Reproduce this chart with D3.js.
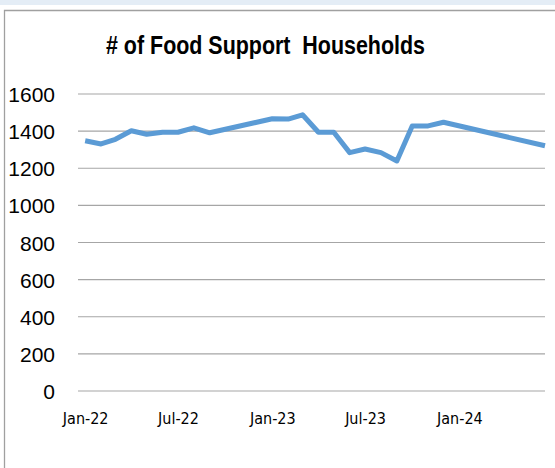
<!DOCTYPE html>
<html>
<head>
<meta charset="utf-8">
<script src="https://cdn.jsdelivr.net/npm/d3@7/dist/d3.min.js"></script>
<style>
    html, body { margin: 0; padding: 0; background: #fff; }
    #chart { width: 555px; height: 468px; }
    .grid line { stroke: #a6a6a6; stroke-width: 1.2; }
</style>
</head>
<body>
<div id="chart"></div>
<script>
// chart data
const titleText = "# of Food Support  Households";
const dates = [
    "2022-01-01", "2022-02-01", "2022-03-01", "2022-04-01", "2022-05-01",
    "2022-06-01", "2022-07-01", "2022-08-01", "2022-09-01",
    "2023-01-01", "2023-02-01", "2023-03-01", "2023-04-01", "2023-05-01",
    "2023-06-01", "2023-07-01", "2023-08-01", "2023-09-01", "2023-10-01",
    "2023-11-01", "2023-12-01", "2024-06-16"
];
const households = [
    1348, 1331, 1356, 1402, 1383,
    1394, 1394, 1418, 1391,
    1467, 1465, 1488, 1394, 1394,
    1284, 1304, 1284, 1239, 1428,
    1428, 1448, 1321
];
const yTicks = [0, 200, 400, 600, 800, 1000, 1200, 1400, 1600];
const xTickDates = ["2022-01-01", "2022-07-01", "2023-01-01", "2023-07-01", "2024-01-01"];
const xTickLabels = ["Jan-22", "Jul-22", "Jan-23", "Jul-23", "Jan-24"];

class FoodSupportChart {
    constructor() {
        this.width = 555;
        this.height = 468;
        this.plot = {left: 78, right: 545, top: 94, bottom: 391};

        this.svg = d3.select("#chart").append("svg")
            .attr("width", this.width)
            .attr("height", this.height);

        // light band at the very top and the chart frame
        this.svg.append("rect")
            .attr("x", 0).attr("y", 0)
            .attr("width", this.width).attr("height", 5)
            .attr("fill", "#e4edf6");
        this.svg.append("path")
            .attr("d", "M4.5," + this.height + "V10.5H" + this.width)
            .attr("fill", "none")
            .attr("stroke", "#a0a0a0")
            .attr("stroke-width", 1.3);

        // title, squeezed to the narrow width of the original
        this.svg.append("text")
            .attr("x", 106)
            .attr("y", 54)
            .attr("textLength", 319)
            .attr("lengthAdjust", "spacingAndGlyphs")
            .attr("xml:space", "preserve")
            .style("font-family", "'Liberation Sans', Arial, sans-serif")
            .style("font-weight", "bold")
            .style("font-size", "25px")
            .text(titleText);
    }

    update() {
        const parse = d3.timeParse("%Y-%m-%d");
        const data = dates.map((d, i) => ({date: parse(d), value: households[i]}));

        let xScale = d3.scaleTime()
            .domain([parse("2021-12-18"), parse("2024-06-16")])
            .range([this.plot.left, this.plot.right]);
        let yScale = d3.scaleLinear()
            .domain([0, 1600])
            .range([this.plot.bottom, this.plot.top]);

        // horizontal gridlines
        let grid = this.svg.append("g").attr("class", "grid");
        grid.selectAll("line")
            .data(yTicks)
            .enter().append("line")
            .attr("x1", this.plot.left)
            .attr("x2", this.plot.right)
            .attr("y1", d => yScale(d))
            .attr("y2", d => yScale(d));

        // y axis labels
        let yAxis = d3.axisLeft(yScale)
            .tickValues(yTicks)
            .tickFormat(d3.format("d"))
            .tickSize(0).tickPadding(0);
        let yAx = this.svg.append("g")
            .attr("transform", "translate(55,0)")
            .call(yAxis);
        yAx.select(".domain").remove();
        yAx.selectAll("text")
            .attr("fill", "#000")
            .style("font-family", "'Liberation Sans', Arial, sans-serif")
            .style("font-size", "21px")
            .attr("dy", "0.36em");

        // x axis labels
        let xAxis = d3.axisBottom(xScale)
            .tickValues(xTickDates.map(parse))
            .tickFormat((d, i) => xTickLabels[i])
            .tickSize(0).tickPadding(0);
        let xAx = this.svg.append("g")
            .attr("transform", "translate(0,410)")
            .call(xAxis);
        xAx.select(".domain").remove();
        xAx.selectAll("text")
            .attr("fill", "#000")
            .style("font-family", "'DejaVu Sans Condensed', 'Liberation Sans', sans-serif")
            .style("font-size", "16px")
            .attr("dy", "0.85em");

        let line = d3.line()
            .x(d => xScale(d.date))
            .y(d => yScale(d.value));

        this.svg.append("path")
            .datum(data)
            .attr("d", line)
            .attr("fill", "none")
            .attr("stroke", "#5b9bd5")
            .attr("stroke-width", 5)
            .attr("stroke-linejoin", "round");
    }
}

let chart = new FoodSupportChart();
chart.update();
</script>
</body>
</html>
